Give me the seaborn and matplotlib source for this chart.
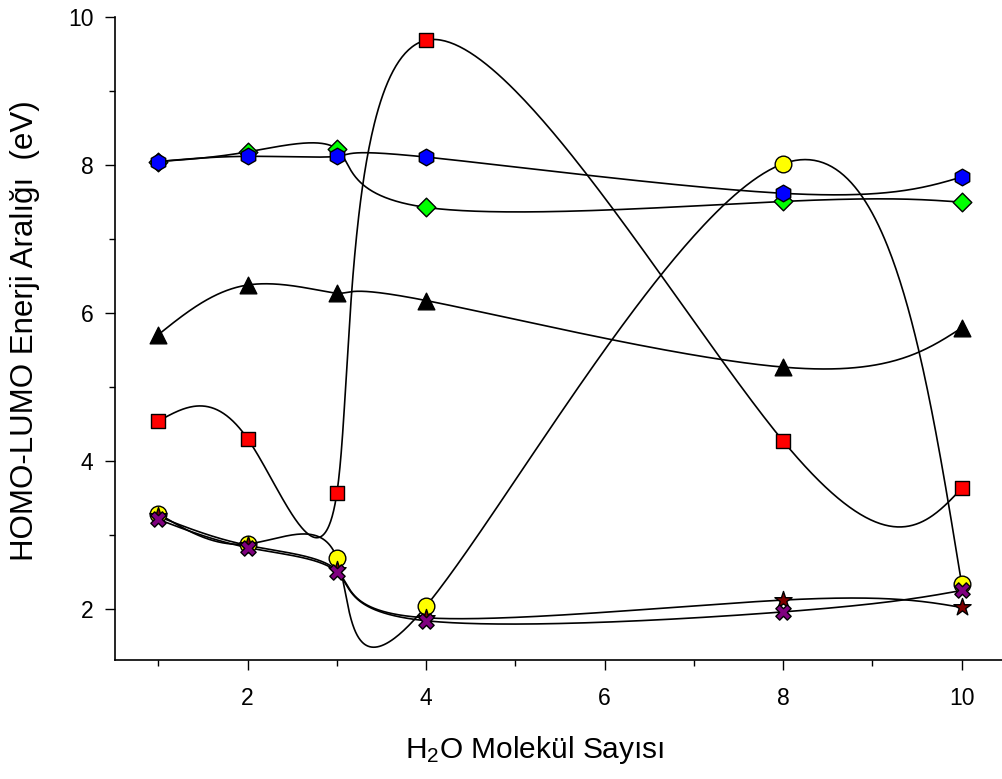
import numpy as np
import pandas as pd
import matplotlib
matplotlib.use("Agg")
import matplotlib.pyplot as plt
from matplotlib.ticker import MultipleLocator
import seaborn as sns

# ---- data ----
water = [1, 2, 3, 4, 8, 10]
s_circle = [3.29, 2.88, 2.69, 2.04, 8.02, 2.34]      # yellow circles
s_square = [4.54, 4.30, 3.57, 9.69, 4.27, 3.63]      # red squares
s_diamond = [8.05, 8.18, 8.22, 7.43, 7.51, 7.50]     # green diamonds
s_triangle = [5.71, 6.38, 6.27, 6.17, 5.27, 5.80]    # black triangles
s_hexagon = [8.05, 8.12, 8.12, 8.11, 7.62, 7.84]     # blue hexagons
s_star = [3.25, 2.86, 2.52, 1.88, 2.12, 2.02]        # dark red stars
s_cross = [3.21, 2.83, 2.50, 1.84, 1.96, 2.25]       # purple crosses

series = [
    ("circle", s_circle, "o", "#ffff00", 12.0),
    ("square", s_square, "s", "#ff0000", 10.5),
    ("diamond", s_diamond, "D", "#00ff00", 9.5),
    ("triangle", s_triangle, "^", "#000000", 12.0),
    ("hexagon", s_hexagon, "h", "#0000ff", 12.0),
    ("star", s_star, "*", "#800000", 13.0),
    ("cross", s_cross, "X", "#800080", 11.0),
]

XLIM = (0.514, 10.46)
YLIM = (1.31, 10.0)


def natural_coeffs(t, y):
    k = len(t)
    h = np.diff(t)
    A = np.zeros((k, k))
    b = np.zeros(k)
    A[0, 0] = 1
    A[-1, -1] = 1
    for i in range(1, k - 1):
        A[i, i - 1] = h[i - 1]
        A[i, i] = 2 * (h[i - 1] + h[i])
        A[i, i + 1] = h[i]
        b[i] = 6 * ((y[i + 1] - y[i]) / h[i] - (y[i] - y[i - 1]) / h[i - 1])
    return np.linalg.solve(A, b)


def eval_spline(t, y, M, ts):
    k = len(t)
    idx = np.clip(np.searchsorted(t, ts) - 1, 0, k - 2)
    t0, t1 = t[idx], t[idx + 1]
    hh = t1 - t0
    a = (t1 - ts) / hh
    bb = (ts - t0) / hh
    return (a * y[idx] + bb * y[idx + 1]
            + ((a ** 3 - a) * M[idx] + (bb ** 3 - bb) * M[idx + 1]) * hh ** 2 / 6)


def parametric_curve(x, y, n=600):
    # uniform-parameter natural spline through the points (smooth connecting line)
    px = np.asarray(x, float)
    py = np.asarray(y, float)
    t = np.arange(len(px), dtype=float)
    Mx = natural_coeffs(t, px)
    My = natural_coeffs(t, py)
    ts = np.linspace(0, t[-1], n)
    return eval_spline(t, px, Mx, ts), eval_spline(t, py, My, ts)


sns.set_style("ticks")
plt.rcParams["font.family"] = ["Liberation Sans", "DejaVu Sans"]
plt.rcParams["mathtext.fontset"] = "custom"
plt.rcParams["mathtext.rm"] = "Liberation Sans"
plt.rcParams["mathtext.it"] = "Liberation Sans:italic"

fig = plt.figure(figsize=(10.03, 7.79), dpi=100)
ax = fig.add_axes([0.1147, 0.1528, 0.885, 0.825])

# curves
for name, vals, mk, col, ms in series:
    xs, ys = parametric_curve(water, vals)
    df = pd.DataFrame({"x": xs, "y": ys})
    sns.lineplot(data=df, x="x", y="y", ax=ax, color="black", lw=1.2,
                 estimator=None, sort=False, zorder=2)

# markers
for i, (name, vals, mk, col, ms) in enumerate(series):
    df = pd.DataFrame({"x": water, "y": vals})
    sns.scatterplot(data=df, x="x", y="y", ax=ax, marker=mk, color=col,
                    s=ms ** 2, edgecolor="black", linewidth=1.0,
                    zorder=3 + i)

ax.set_xlim(*XLIM)
ax.set_ylim(*YLIM)
ax.xaxis.set_minor_locator(MultipleLocator(1))
ax.yaxis.set_minor_locator(MultipleLocator(1))
ax.set_xticks([2, 4, 6, 8, 10])
ax.set_yticks([2, 4, 6, 8, 10])

ax.tick_params(axis="both", which="major", direction="out", length=7.5,
               width=1.0, labelsize=16.5, color="black", labelcolor="black")
ax.tick_params(axis="both", which="minor", direction="out", length=4.5,
               width=1.0, color="black")
ax.tick_params(axis="x", which="major", pad=12)
ax.tick_params(axis="y", which="major", pad=8)

sns.despine(ax=ax)
for sp in ["left", "bottom"]:
    ax.spines[sp].set_linewidth(1.2)
    ax.spines[sp].set_color("black")

ax.set_xlabel("H$_2$O Molekül Sayısı", fontsize=21.5, color="black")
ax.set_ylabel("HOMO-LUMO Enerji Aralığı  (eV)", fontsize=22.5, color="black")
ax.xaxis.set_label_coords(0.473, -0.115)
ax.yaxis.set_label_coords(-0.084, 0.513)
ax.grid(False)

fig.savefig("out.png", dpi=100)
